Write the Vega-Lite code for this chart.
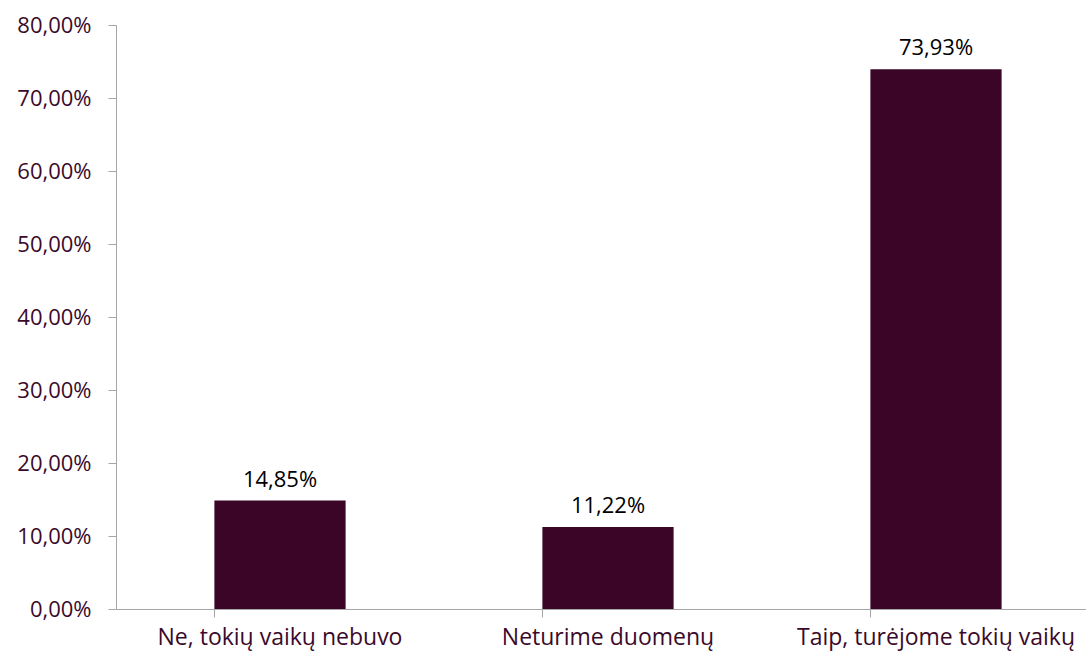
{
  "$schema": "https://vega.github.io/schema/vega-lite/v6.json",
  "width": 970,
  "height": 584,
  "autosize": "none",
  "padding": {"left": 116, "top": 25, "right": 0, "bottom": 46},
  "background": "white",
  "config": {
    "view": {"stroke": null},
    "locale": {"number": {"decimal": ",", "thousands": " ", "grouping": [3], "currency": ["", " €"]}},
    "font": "Open Sans"
  },
  "data": {
    "values": [
      {"category": "Ne, tokių vaikų nebuvo", "value": 0.1485},
      {"category": "Neturime duomenų", "value": 0.1122},
      {"category": "Taip, turėjome tokių vaikų", "value": 0.7393}
    ]
  },
  "encoding": {
    "x": {
      "field": "category",
      "type": "nominal",
      "sort": null,
      "scale": {"range": [0, 984], "paddingInner": 0.6, "paddingOuter": 0.3},
      "axis": {
        "title": null,
        "labelAngle": 0,
        "bandPosition": 0,
        "domainColor": "#a6a6a6",
        "tickColor": "#a6a6a6",
        "tickSize": 8,
        "labelFontSize": 23,
        "labelColor": "#3b0a2a",
        "labelPadding": 9,
        "labelLimit": 0,
        "labelFont": "Open Sans",
        "labelBandPosition": 0.5
      }
    },
    "y": {
      "field": "value",
      "type": "quantitative",
      "scale": {"domain": [0, 0.8]},
      "axis": {
        "title": null,
        "format": ".2%",
        "values": [0, 0.1, 0.2, 0.3, 0.4, 0.5, 0.6, 0.7, 0.8],
        "grid": false,
        "domainColor": "#a6a6a6",
        "tickColor": "#a6a6a6",
        "tickSize": 8,
        "labelFontSize": 22,
        "labelColor": "#3b0a2a",
        "labelPadding": 17,
        "labelFont": "Open Sans"
      }
    }
  },
  "layer": [
    {"mark": {"type": "bar", "color": "#3a0526"}},
    {
      "mark": {"type": "text", "baseline": "alphabetic", "dy": -14, "fontSize": 22, "color": "#000000", "font": "Open Sans"},
      "encoding": {"text": {"field": "value", "type": "quantitative", "format": ".2%"}}
    }
  ]
}
